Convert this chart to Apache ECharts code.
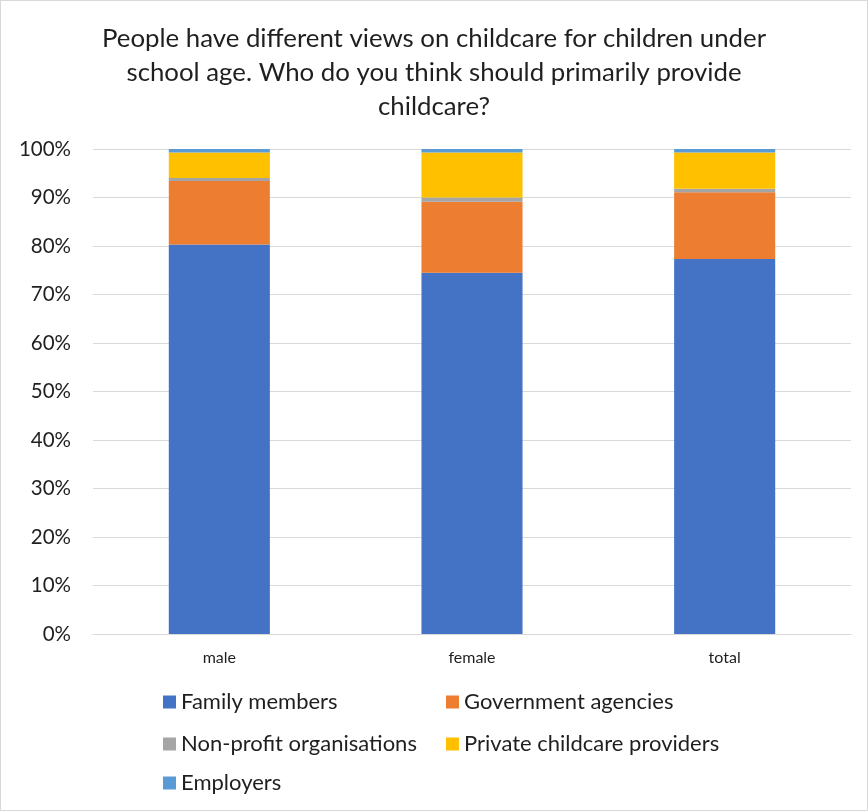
<!DOCTYPE html>
<html><head><meta charset="utf-8">
<script src="https://cdn.jsdelivr.net/npm/echarts@6/dist/echarts.min.js"></script>
<style>html,body{margin:0;padding:0;background:#fff}#c{width:868px;height:811px;box-sizing:border-box;border:1px solid #d9d9d9}</style>
</head><body><div id="c"></div>
<script>
const categories = ['male', 'female', 'total'];
const familyMembers = [80.3, 74.5, 77.3];
const governmentAgencies = [13.1, 14.6, 13.8];
const nonProfit = [0.6, 0.9, 0.7];
const privateProviders = [5.3, 9.3, 7.5];
const employers = [0.7, 0.7, 0.7];
const yTicks = [0, 10, 20, 30, 40, 50, 60, 70, 80, 90, 100];

const FONT = 'Lato, "Open Sans", sans-serif';
const names = ['Family members','Government agencies','Non-profit organisations','Private childcare providers','Employers'];
const colors = ['#4472C4','#ED7D31','#A5A5A5','#FFC000','#5B9BD5'];
const values = [familyMembers, governmentAgencies, nonProfit, privateProviders, employers];
const legendPos = [[157,685],[440,685],[157,727],[440,727],[157,766]];

const chart = echarts.init(document.getElementById('c'));
chart.setOption({
  animation:false,
  color: colors,
  title:{
    text:'People have different views on childcare for children under\nschool age. Who do you think should primarily provide\nchildcare?',
    left:'center', top:16,
    textStyle:{fontFamily:FONT,fontSize:25.8,fontWeight:'normal',color:'#1f1f1f',lineHeight:34}
  },
  legend: names.map((n,i)=>({
    data:[n], left:legendPos[i][0], top:legendPos[i][1], itemWidth:13, itemHeight:13, itemGap:0,
    icon:'rect', textStyle:{fontFamily:FONT,fontSize:22,color:'#1f1f1f',padding:[0,0,0,0]}
  })),
  grid:{left:92,right:16,top:148,bottom:176},
  xAxis:{type:'category',data:categories,
    axisLine:{lineStyle:{color:'#d9d9d9'}},axisTick:{show:false},
    axisLabel:{fontFamily:FONT,fontSize:16,color:'#1f1f1f',margin:16}},
  yAxis:{type:'value',min:0,max:100,interval:10,
    axisLine:{show:false},axisTick:{show:false},
    splitLine:{lineStyle:{color:'#d9d9d9'}},
    axisLabel:{fontFamily:FONT,fontSize:20.5,color:'#1f1f1f',margin:22,
      formatter:v=>yTicks.includes(v)?v+'%':''}},
  series: names.map((n,i)=>({
    name:n,type:'bar',stack:'s',barWidth:'40%',data:values[i],
    itemStyle:{color:colors[i]}
  }))
});
</script></body></html>
